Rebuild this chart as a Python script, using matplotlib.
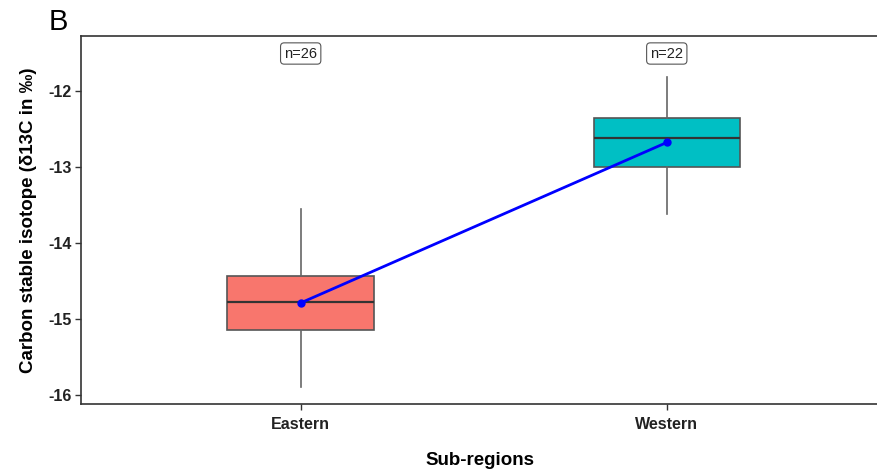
import matplotlib.pyplot as plt

plt.rcParams['font.family'] = ['Liberation Sans', 'DejaVu Sans']

# values
regions = ['Eastern', 'Western']
whisker_low = [-15.89, -13.62]
q1 = [-15.14, -13.00]
median = [-14.78, -12.62]
q3 = [-14.44, -12.36]
whisker_high = [-13.55, -11.82]
means = [-14.79, -12.68]
counts = [26, 22]
box_colors = ['#F8766D', '#00BFC4']

fig = plt.figure(figsize=(8.78, 4.72), dpi=100)
ax = fig.add_axes([0.0923, 0.144, 0.9077, 0.7797])

stats = []
for i, name in enumerate(regions):
    stats.append({'label': name, 'whislo': whisker_low[i], 'q1': q1[i],
                  'med': median[i], 'q3': q3[i], 'whishi': whisker_high[i],
                  'fliers': []})

pos = [1, 2]
bp = ax.bxp(stats, positions=pos, widths=0.4, patch_artist=True,
            showcaps=False, showfliers=False,
            boxprops=dict(edgecolor='#555555', linewidth=1.2),
            whiskerprops=dict(color='#666666', linewidth=1.2),
            medianprops=dict(color='#333333', linewidth=1.6))
for patch, c in zip(bp['boxes'], box_colors):
    patch.set_facecolor(c)

# mean line
ax.plot(pos, means, color='blue', linewidth=2, marker='o', markersize=5, zorder=5)

# sample size labels
for p, n in zip(pos, counts):
    ax.text(p, -11.51, f'n={n}', ha='center', va='center', fontsize=10.5,
            color='#222222',
            bbox=dict(boxstyle='round,pad=0.25', facecolor='white',
                      edgecolor='#555555', linewidth=0.8))

ax.set_xlim(0.4, 2.577)
ax.set_ylim(-16.12, -11.28)
ax.set_yticks([-16, -15, -14, -13, -12])
ax.set_yticklabels(['-16', '-15', '-14', '-13', '-12'])
ax.set_xticks(pos)
ax.set_xticklabels(regions)
for lab in ax.get_xticklabels() + ax.get_yticklabels():
    lab.set_fontweight('bold')
    lab.set_fontsize(11.5)
    lab.set_color('#222222')

ax.spines['right'].set_visible(False)
for s in ['left', 'bottom', 'top']:
    ax.spines[s].set_color('#333333')
    ax.spines[s].set_linewidth(1.2)
ax.tick_params(axis='both', length=4, color='#333333', width=1)
ax.tick_params(axis='x', pad=5)
ax.tick_params(axis='y', pad=3)

ax.set_xlabel('Sub-regions', fontsize=13.5, fontweight='bold', labelpad=15)
ax.set_ylabel('Carbon stable isotope (δ13C in ‰)', fontsize=13.5,
              fontweight='bold', labelpad=8)

fig.text(0.066, 0.953, 'B', fontsize=21, ha='center', va='center')

fig.savefig('out.png', dpi=100)
